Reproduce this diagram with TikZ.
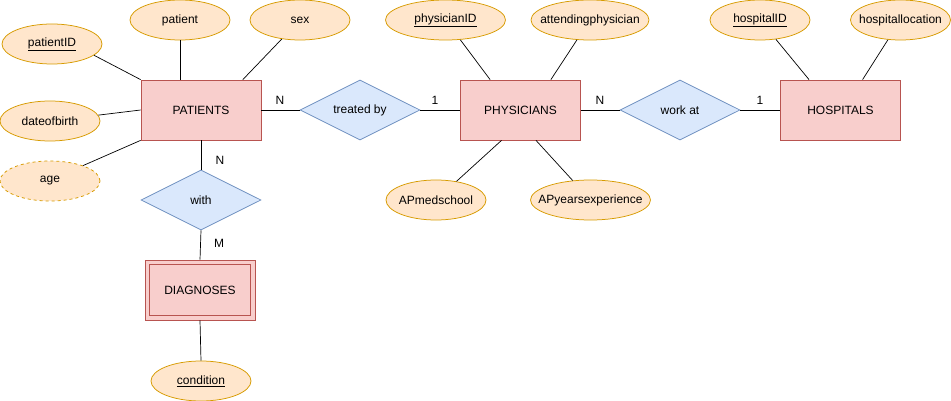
\documentclass[tikz,border=0pt]{standalone}
\usepackage{fontspec}
\setmainfont{Liberation Sans}
\usepackage{tikz}
\usetikzlibrary{shapes.geometric}
\definecolor{entfill}{HTML}{F8CECC}
\definecolor{entdraw}{HTML}{B85450}
\definecolor{attfill}{HTML}{FFE6CC}
\definecolor{attdraw}{HTML}{D79B00}
\definecolor{relfill}{HTML}{DAE8FC}
\definecolor{reldraw}{HTML}{6C8EBF}
\newcommand{\attrlbl}[1]{\makebox[0pt]{#1}}
\begin{document}
\begin{tikzpicture}[x=1pt,y=-1pt,font=\fontsize{12}{14}\selectfont,
	entity/.style={draw=entdraw,fill=entfill,line width=0.75pt,minimum width=120pt,minimum height=60pt,inner sep=0pt},
	attr/.style={ellipse,draw=attdraw,fill=attfill,line width=0.75pt,minimum width=100pt,minimum height=40pt,inner sep=0pt},
	relship/.style={diamond,draw=reldraw,fill=relfill,line width=0.75pt,minimum width=120pt,minimum height=60pt,inner sep=0pt,shape aspect=2},
	link/.style={line width=0.7pt}]
					\useasboundingbox (0,0) rectangle (951,401);
					\node[entity] (patients) at (201,110) {PATIENTS};
					\node[entity] (physicians) at (520.5,110) {PHYSICIANS};
					\node[entity] (hospitals) at (840.5,110) {HOSPITALS};
					\node[entity,minimum width=110pt] (diagnoses) at (200,290) {DIAGNOSES};
					\draw[draw=entdraw,line width=0.75pt] ([shift={(5,5)}]diagnoses.north west) rectangle ([shift={(-5,-5)}]diagnoses.south east);
					\node[relship] (treated) at (360,110) {treated by};
					\node[relship] (workat) at (680,110) {work at};
					\node[relship] (with) at (201,200) {with};
					\node[attr] (patientid) at (52,44) {\attrlbl{\underline{patientID}}};
					\node[attr] (patient) at (180,20) {\attrlbl{patient}};
					\node[attr] (sex) at (300,20) {\attrlbl{sex}};
					\node[attr] (dob) at (50,121) {\attrlbl{dateofbirth}};
					\node[attr,dashed] (age) at (50,181) {\attrlbl{age}};
					\node[attr] (condition) at (201,381) {\attrlbl{\underline{condition}}};
					\node[attr,minimum width=120pt] (physicianid) at (445.5,20) {\attrlbl{\underline{physicianID}}};
					\node[attr,minimum width=118pt] (attending) at (590,20) {\attrlbl{attendingphysician}};
					\node[attr] (medschool) at (436,200) {\attrlbl{APmedschool}};
					\node[attr,minimum width=120pt] (yearsexp) at (590.5,200) {\attrlbl{APyearsexperience}};
					\node[attr] (hospitalid) at (760,20) {\attrlbl{\underline{hospitalID}}};
					\node[attr] (hospitalloc) at (900.5,20) {\attrlbl{hospitallocation}};
					\draw[link] (patientid.-15) -- (patients.north west);
					\draw[link] (patient) -- (patient |- patients.north);
					\draw[link] (sex) -- (patients.36);
					\draw[link] (dob) -- (patients.west);
					\draw[link] (age.25) -- (patients.south west);
					\draw[link] (physicianid) -- (physicians.135);
					\draw[link] (attending) -- (physicians.45);
					\draw[link] (medschool) -- (physicians.238);
					\draw[link] (yearsexp) -- (physicians.-63);
					\draw[link] (hospitalid) -- (hospitals.136);
					\draw[link] (hospitalloc) -- (hospitals.54);
					\draw[link] (patients.east) -- (treated.west);
					\draw[link] (treated.east) -- (physicians.west);
					\draw[link] (physicians.east) -- (workat.west);
					\draw[link] (workat.east) -- (hospitals.west);
					\draw[link] (patients.south) -- (with.north);
					\draw[link] (with.south) -- (diagnoses.north);
					\draw[link] (diagnoses.south) -- (condition.north);
					\node (card1) at (280,100) {N}; \node (card2) at (435,100) {1};
					\node (card3) at (600,100) {N}; \node (card4) at (760,100) {1};
					\node (card5) at (220,160) {N}; \node (card6) at (219,243) {M};
					\end{tikzpicture}
\end{document}
